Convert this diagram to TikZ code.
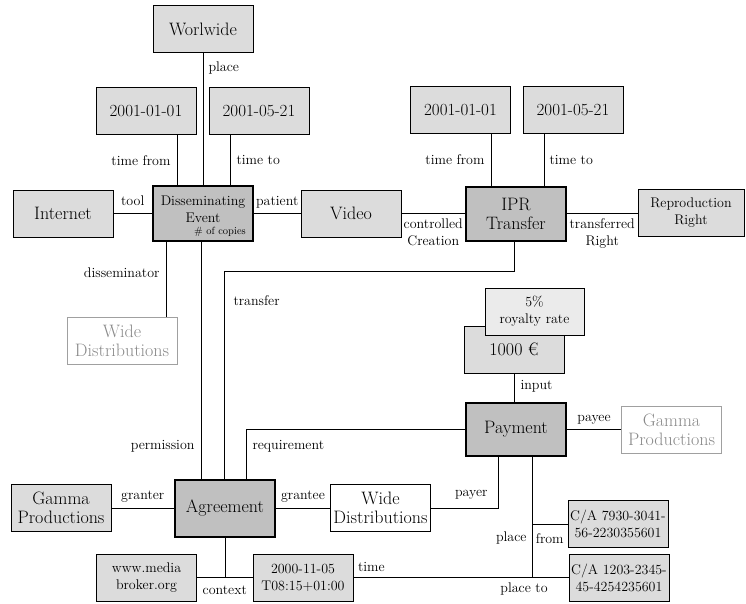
\documentclass[tikz,border=0pt]{standalone}
\usepackage{fontspec}
\usetikzlibrary{calc}
\definecolor{cbox}{HTML}{DCDCDC}
\definecolor{ckey}{HTML}{C0C0C0}
\definecolor{cnote}{HTML}{EBEBEB}
\definecolor{cext}{HTML}{8A8A8A}
\definecolor{cextl}{HTML}{A0A0A0}
\newcommand\fbig{\fontsize{18}{19}\selectfont}
\newcommand\fdate{\fontsize{17}{19}\selectfont}
\newcommand\fsmall{\fontsize{14}{17}\selectfont}
\newcommand\ftiny{\fontsize{10.5}{12}\selectfont}

\begin{document}
\begin{tikzpicture}[x=1pt, y=-1pt,
  box/.style={draw, line width=1pt, fill=cbox, minimum width=100pt, minimum height=47pt,
    inner sep=0pt, align=center, font=\fbig},
  key/.style={box, fill=ckey, line width=2pt},
  ext/.style={box, draw=cextl, text=cext, fill=white},
  rel/.style={font=\fsmall, inner sep=2pt, text depth=0pt, align=center},
  link/.style={line width=1pt}
]
\useasboundingbox (0,0) rectangle (746,604);
% top row
\node[box] (wwd) at (203,29.5) {Worlwide};
\node[box, font=\fdate] (dfrom) at (146,111.5) {2001-01-01};
\node[box, font=\fdate] (dto) at (259,111.5) {2001-05-21};
\node[box, font=\fdate] (ifrom) at (460.5,110.5) {2001-01-01};
\node[box, font=\fdate] (ito) at (573,110.5) {2001-05-21};
% events
\node[box] (net) at (63,213.5) {Internet};
\node[key, minimum height=55pt, font=\fsmall, text depth=9pt] (dis) at (203,213.5) {Disseminating\\Event};
\node[font=\ftiny, anchor=south east, inner sep=0pt] (cop) at ($(dis.south east)+(-8,-5)$) {\# of copies};
\node[box] (vid) at (351,213.5) {Video};
\node[key, minimum height=54pt] (ipr) at (516,213.5) {IPR\\Transfer};
\node[box, font=\fsmall, minimum width=106pt] (rep) at (691,213) {Reproduction\\Right};
\node[ext, minimum width=110pt] (wdg) at (122,340.5) {Wide\\Distributions};
% payment
\node[box] (eur) at (514,349.5) {1000 €};
\node[box, fill=cnote, font=\fsmall, minimum width=99pt] (roy) at (534.5,311.5) {5\%\\royalty rate};
\node[key, minimum height=53pt] (pay) at (516,429.5) {Payment};
\node[ext] (gpg) at (671.5,429.5) {Gamma\\Productions};
\node[box, font=\fsmall] (acc1) at (618,524) {C/A 7930-3041-\\56-2230355601};
\node[box, font=\fsmall] (acc2) at (619,577.5) {C/A 1203-2345-\\45-4254235601};
% agreement
\node[key, minimum height=57pt] (agr) at (225,508) {Agreement};
\node[box] (gpl) at (61,508) {Gamma\\Productions};
\node[box, fill=white] (wdw) at (380.5,508) {Wide\\Distributions};
\node[box, font=\fsmall] (www) at (146.5,577.5) {www.media\\broker.org};
\node[box, font=\fsmall] (tim) at (303,577.5) {2000-11-05\\T08:15+01:00};

\coordinate (tf) at ($(dis.north)+(-26,0)$);
\coordinate (tt) at ($(dis.north)+(27,0)$);
\coordinate (itf) at ($(ipr.north)+(-25,0)$);
\coordinate (itt) at ($(ipr.north)+(28,0)$);
\coordinate (dd) at ($(dis.south)+(-37,0)$);
\coordinate (pm) at ($(dis.south)+(-2,0)$);
\coordinate (pt) at ($(pay.south)+(16,0)$);
\coordinate (te) at (557,577.5);

% disseminating event
\draw[link] (wwd) -- node[rel, pos=.1, right=3pt]{place} (dis);
\draw[link] (tf) -- node[rel, left=4pt]{time from} (tf |- dfrom.south);
\draw[link] (tt) -- node[rel, right=4pt]{time to} (tt |- dto.south);
\draw[link] (net) -- node[rel, above=6pt]{tool} (dis);
\draw[link] (dis) -- node[rel, above=6pt]{patient} (vid);
\draw[link] (dd) -- node[rel, pos=.41, left=4pt]{disseminator} (dd |- wdg.north);
% ipr transfer
\draw[link] (vid) -- node[rel, below=3pt]{controlled\\Creation} (ipr);
\draw[link] (ipr.east) -- node[rel, below=3pt]{transferred\\Right} (ipr.east -| rep.west);
\draw[link] (itf) -- node[rel, left=4pt]{time from} (itf |- ifrom.south);
\draw[link] (itt) -- node[rel, right=3pt]{time to} (itt |- ito.south);
\draw[link] ($(ipr.south)+(-2,0)$) -- ++(0,30) -| node[rel, pos=.57, right=7pt]{transfer} ($(agr.north)+(-1,0)$);
\draw[link] (pm) -- node[rel, pos=.86, left=4pt]{permission} (pm |- agr.north);
% payment
\draw[link] (eur.south) -- node[rel, pos=.4, right=4pt]{input} (eur.south |- pay.north);
\draw[link] (pay) -- node[rel, above=6pt]{payee} (gpg);
\draw[link] (pay) -| node[rel, pos=.5, anchor=north west, xshift=4pt, yshift=-8pt]{requirement} ($(agr.north)+(21,0)$);
\draw[link] (wdw) -| node[rel, pos=.5, anchor=south east, xshift=-8pt, yshift=9pt]{payer} ($(pay.south)+(-18,0)$);
\draw[link] (pt) |- node[rel, pos=.33, left=3pt]{place} node[rel, pos=.5, below=3pt, xshift=-8pt]{place to} (acc2);
\draw[link] (acc1) -- node[rel, below=7pt]{from} (acc1 -| pt);
% agreement
\draw[link] (gpl) -- node[rel, above=6pt]{granter} (agr);
\draw[link] (agr) -- node[rel, above=6pt]{grantee} (wdw);
\draw[link] (agr) -- (agr |- www.east);
\draw[link] (www) -- node[rel, below=6pt]{context} (tim);
\draw[link] (tim) -- node[rel, pos=0, anchor=south west, xshift=2pt, yshift=3.5pt]{time} (te);
\end{tikzpicture}
\end{document}
